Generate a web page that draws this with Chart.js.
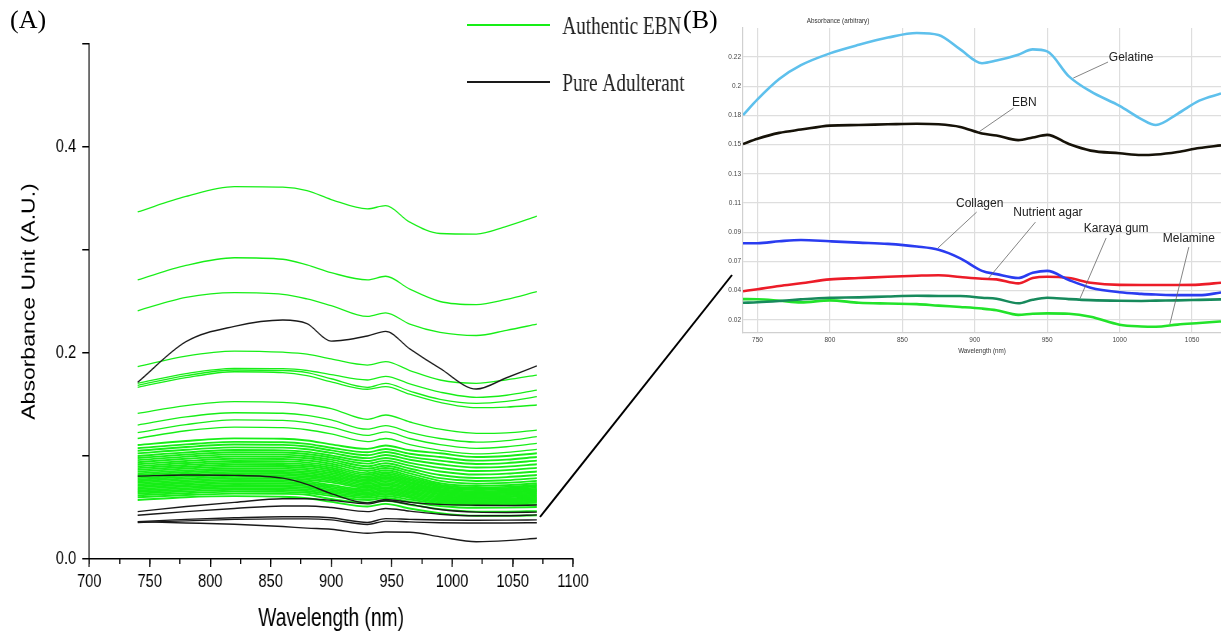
<!DOCTYPE html>
<html>
<head>
<meta charset="utf-8">
<script src="https://cdn.jsdelivr.net/npm/chart.js"></script>
<style>
  html, body { margin: 0; padding: 0; background: #fff; }
  body { width: 1221px; height: 634px; position: relative; overflow: hidden; }
  /* panel A was squeezed sideways in the figure, so draw it wide and squash it */
  #wrapA { position: absolute; left: 0; top: 0; width: 910px; height: 634px; transform: scaleX(0.76923); transform-origin: 0 0; }
  #wrapB { position: absolute; left: 700px; top: 0; width: 521px; height: 380px; }
  #link { position: absolute; left: 0; top: 0; }
  .panel { position: absolute; top: 5px; font: 26px "Liberation Serif", "Times New Roman", serif; color: #000; }
</style>
</head>
<body>
<div id="wrapA"><canvas id="chartA" width="910" height="634"></canvas></div>
<div id="wrapB"><canvas id="chartB" width="521" height="380"></canvas></div>
<svg id="link" width="1221" height="634"><line x1="540" y1="517" x2="732" y2="275" stroke="#000" stroke-width="2"/></svg>
<div class="panel" style="left:10px">(A)</div>
<div class="panel" style="left:683px">(B)</div>
<script>
// ---------- panel A data ----------
const wlA = [740, 780, 820, 860, 880, 900, 930, 945, 965, 990, 1020, 1045, 1070];

const authenticEBN = [
  [0.337, 0.352, 0.3615, 0.361, 0.3576, 0.349, 0.340, 0.343, 0.327, 0.316, 0.3155, 0.323, 0.333],
  [0.271, 0.285, 0.2925, 0.291, 0.2855, 0.278, 0.271, 0.2745, 0.262, 0.250, 0.247, 0.252, 0.2595],
  [0.241, 0.254, 0.2586, 0.257, 0.2525, 0.246, 0.2355, 0.239, 0.228, 0.220, 0.217, 0.222, 0.228],
  [0.1867, 0.197, 0.2019, 0.2008, 0.199, 0.1942, 0.1883, 0.1916, 0.183, 0.1738, 0.1706, 0.174, 0.1786],
  [0.1706, 0.180, 0.1851, 0.1848, 0.183, 0.179, 0.1738, 0.1773, 0.170, 0.162, 0.157, 0.159, 0.164],
  [0.1686, 0.178, 0.1835, 0.183, 0.181, 0.175, 0.1667, 0.1706, 0.163, 0.155, 0.1511, 0.153, 0.1576],
  [0.1667, 0.176, 0.1818, 0.181, 0.178, 0.172, 0.1648, 0.1673, 0.160, 0.152, 0.147, 0.1475, 0.1495],
  [0.1414, 0.149, 0.1527, 0.152, 0.150, 0.146, 0.1356, 0.1398, 0.133, 0.126, 0.122, 0.1225, 0.1252],
  [0.130, 0.138, 0.142, 0.1415, 0.1395, 0.135, 0.126, 0.1295, 0.123, 0.117, 0.1135, 0.115, 0.1188],
  [0.1226, 0.1305, 0.135, 0.1345, 0.1325, 0.128, 0.120, 0.1235, 0.117, 0.111, 0.1075, 0.109, 0.1123],
  [0.117, 0.1245, 0.128, 0.1275, 0.1255, 0.1215, 0.114, 0.117, 0.111, 0.1055, 0.102, 0.1035, 0.1065],
  [0.1107, 0.1146, 0.1171, 0.1168, 0.1151, 0.1113, 0.1069, 0.1102, 0.1056, 0.1026, 0.0990, 0.1000, 0.1026],
  [0.1075, 0.1113, 0.1137, 0.1134, 0.1118, 0.1080, 0.1036, 0.1068, 0.1022, 0.0990, 0.0955, 0.0965, 0.0990],
  [0.1050, 0.1087, 0.1111, 0.1108, 0.1092, 0.1055, 0.1007, 0.1039, 0.0992, 0.0955, 0.0922, 0.0931, 0.0955],
  [0.1025, 0.1061, 0.1084, 0.1081, 0.1066, 0.1030, 0.0979, 0.1010, 0.0963, 0.0920, 0.0888, 0.0897, 0.0920],
  [0.1000, 0.1035, 0.1058, 0.1055, 0.1040, 0.1005, 0.0951, 0.0981, 0.0933, 0.0885, 0.0854, 0.0863, 0.0885],
  [0.0980, 0.1014, 0.1037, 0.1034, 0.1019, 0.0985, 0.0926, 0.0955, 0.0906, 0.0850, 0.0820, 0.0829, 0.0850],
  [0.0960, 0.0994, 0.1016, 0.1013, 0.0998, 0.0965, 0.0901, 0.0930, 0.0879, 0.0815, 0.0786, 0.0795, 0.0815],
  [0.0940, 0.0973, 0.0995, 0.0992, 0.0978, 0.0945, 0.0877, 0.0905, 0.0854, 0.0785, 0.0758, 0.0765, 0.0785],
  [0.0920, 0.0952, 0.0973, 0.0971, 0.0957, 0.0925, 0.0855, 0.0883, 0.0831, 0.0758, 0.0731, 0.0739, 0.0758],
  [0.0900, 0.0932, 0.0952, 0.0950, 0.0936, 0.0905, 0.0834, 0.0861, 0.0809, 0.0735, 0.0709, 0.0717, 0.0735],
  [0.0882, 0.0913, 0.0933, 0.0931, 0.0917, 0.0886, 0.0817, 0.0843, 0.0792, 0.0718, 0.0693, 0.0700, 0.0718],
  [0.0865, 0.0895, 0.0915, 0.0913, 0.0900, 0.0869, 0.0801, 0.0827, 0.0777, 0.0705, 0.0680, 0.0687, 0.0705],
  [0.0848, 0.0878, 0.0897, 0.0895, 0.0882, 0.0852, 0.0786, 0.0811, 0.0763, 0.0693, 0.0669, 0.0676, 0.0693],
  [0.0831, 0.0860, 0.0879, 0.0877, 0.0864, 0.0835, 0.0771, 0.0796, 0.0748, 0.0681, 0.0657, 0.0664, 0.0681],
  [0.0815, 0.0844, 0.0862, 0.0860, 0.0848, 0.0819, 0.0757, 0.0781, 0.0735, 0.0670, 0.0647, 0.0653, 0.0670],
  [0.0800, 0.0828, 0.0846, 0.0844, 0.0832, 0.0804, 0.0744, 0.0768, 0.0722, 0.0659, 0.0636, 0.0643, 0.0659],
  [0.0785, 0.0812, 0.0831, 0.0828, 0.0816, 0.0789, 0.0730, 0.0754, 0.0709, 0.0648, 0.0625, 0.0632, 0.0648],
  [0.0770, 0.0797, 0.0815, 0.0812, 0.0801, 0.0774, 0.0716, 0.0739, 0.0696, 0.0637, 0.0615, 0.0621, 0.0637],
  [0.0755, 0.0781, 0.0799, 0.0797, 0.0785, 0.0759, 0.0703, 0.0726, 0.0684, 0.0626, 0.0604, 0.0610, 0.0626],
  [0.0740, 0.0766, 0.0783, 0.0781, 0.0770, 0.0744, 0.0690, 0.0712, 0.0671, 0.0615, 0.0593, 0.0600, 0.0615],
  [0.0725, 0.0750, 0.0767, 0.0765, 0.0754, 0.0718, 0.0676, 0.0698, 0.0658, 0.0604, 0.0583, 0.0589, 0.0604],
  [0.0710, 0.0735, 0.0751, 0.0749, 0.0738, 0.0703, 0.0663, 0.0684, 0.0645, 0.0593, 0.0572, 0.0578, 0.0593],
  [0.0695, 0.0719, 0.0735, 0.0733, 0.0723, 0.0688, 0.0649, 0.0670, 0.0632, 0.0582, 0.0562, 0.0567, 0.0582],
  [0.0680, 0.0704, 0.0719, 0.0717, 0.0707, 0.0673, 0.0636, 0.0656, 0.0619, 0.0571, 0.0551, 0.0557, 0.0571],
  [0.0665, 0.0688, 0.0704, 0.0702, 0.0692, 0.0658, 0.0622, 0.0642, 0.0606, 0.0560, 0.0540, 0.0546, 0.0560],
  [0.0650, 0.0673, 0.0688, 0.0686, 0.0676, 0.0644, 0.0609, 0.0628, 0.0594, 0.0549, 0.0530, 0.0535, 0.0549],
  [0.0635, 0.0657, 0.0672, 0.0670, 0.0660, 0.0629, 0.0593, 0.0612, 0.0577, 0.0535, 0.0522, 0.0524, 0.0530],
  [0.0618, 0.0640, 0.0654, 0.0652, 0.0643, 0.0612, 0.0573, 0.0592, 0.0556, 0.0515, 0.0497, 0.0499, 0.0505],
  [0.0600, 0.0621, 0.0635, 0.0633, 0.0624, 0.0582, 0.0547, 0.0565, 0.0527, 0.0484, 0.0460, 0.0460, 0.0465],
  [0.0573, 0.0600, 0.0610, 0.0605, 0.0590, 0.0555, 0.0510, 0.0535, 0.0490, 0.0445, 0.0420, 0.0420, 0.0425]
];

// gelatine, collagen, nutrient agar, ..., melamine
const pureAdulterant = [
  [0.1715, 0.211, 0.2258, 0.232, 0.2285, 0.2115, 0.2165, 0.221, 0.204, 0.185, 0.165, 0.176, 0.1875],
  [0.0805, 0.0815, 0.0812, 0.0785, 0.0725, 0.0635, 0.0545, 0.0578, 0.0550, 0.0530, 0.0522, 0.0520, 0.0524],
  [0.046, 0.051, 0.055, 0.0585, 0.0585, 0.057, 0.0535, 0.0565, 0.053, 0.048, 0.0455, 0.0452, 0.0455],
  [0.0425, 0.046, 0.049, 0.0515, 0.0515, 0.050, 0.046, 0.049, 0.0465, 0.0435, 0.042, 0.042, 0.0428],
  [0.0362, 0.0385, 0.040, 0.041, 0.041, 0.040, 0.0355, 0.0392, 0.0385, 0.0378, 0.0376, 0.0377, 0.0380],
  [0.0355, 0.0370, 0.0385, 0.039, 0.039, 0.038, 0.0335, 0.0368, 0.036, 0.0352, 0.035, 0.035, 0.0352],
  [0.0362, 0.035, 0.0337, 0.0315, 0.030, 0.0289, 0.025, 0.0262, 0.026, 0.0215, 0.0168, 0.0178, 0.0201]
];

const legendA = ['Authentic EBN', 'Pure Adulterant'];

// ---------- panel B data ----------
const wlB = [740, 750, 765, 780, 800, 820, 840, 860, 875, 890, 905, 915, 930, 940, 950, 965, 980, 1000, 1015, 1025, 1040, 1055, 1070];
const gelatine     = [0.178, 0.190, 0.2055, 0.216, 0.225, 0.2315, 0.237, 0.2405, 0.239, 0.228, 0.2175, 0.2195, 0.224, 0.228, 0.2265, 0.2075, 0.196, 0.185, 0.175, 0.1705, 0.179, 0.189, 0.1945];
const ebn          = [0.156, 0.160, 0.1645, 0.167, 0.170, 0.1705, 0.171, 0.1714, 0.171, 0.169, 0.164, 0.1625, 0.159, 0.161, 0.163, 0.156, 0.151, 0.149, 0.1476, 0.148, 0.150, 0.153, 0.155];
const collagen     = [0.0805, 0.0805, 0.082, 0.083, 0.082, 0.081, 0.080, 0.078, 0.0755, 0.069, 0.0595, 0.057, 0.054, 0.058, 0.0595, 0.0525, 0.0467, 0.0432, 0.042, 0.0415, 0.041, 0.041, 0.043];
const nutrientAgar = [0.044, 0.0455, 0.048, 0.050, 0.053, 0.054, 0.055, 0.0558, 0.0562, 0.0548, 0.0535, 0.053, 0.050, 0.054, 0.055, 0.054, 0.0505, 0.0488, 0.0487, 0.0487, 0.0487, 0.049, 0.0505];
const karayaGum    = [0.0352, 0.0356, 0.0366, 0.0378, 0.039, 0.0393, 0.040, 0.0405, 0.0404, 0.0403, 0.039, 0.0383, 0.0348, 0.0375, 0.039, 0.038, 0.0372, 0.0367, 0.0366, 0.0368, 0.037, 0.0374, 0.0378];
const melamine     = [0.038, 0.0379, 0.0368, 0.0355, 0.037, 0.0352, 0.0346, 0.0342, 0.033, 0.032, 0.0308, 0.0295, 0.026, 0.0268, 0.0271, 0.0268, 0.0245, 0.0185, 0.0172, 0.017, 0.0186, 0.0198, 0.021];

const xTicksB = [750, 800, 850, 900, 950, 1000, 1050];
const yTicksB = [0.0222, 0.0444, 0.0667, 0.0889, 0.1111, 0.1333, 0.1556, 0.1778, 0.2, 0.2222];
const yTickLabelsB = ['0.02', '0.04', '0.07', '0.09', '0.11', '0.13', '0.15', '0.18', '0.2', '0.22'];

// callouts: label, text centre, leader start, leader end (wavelength, absorbance)
const calloutNames = ['Gelatine', 'EBN', 'Collagen', 'Nutrient agar', 'Karaya gum', 'Melamine'];
const calloutText = [[1008, 0.2214], [934.3, 0.1872], [903.4, 0.1103], [950.5, 0.1035], [997.6, 0.0913], [1047.8, 0.0837]];
const calloutFrom = [[992, 0.2184], [926.8, 0.1834], [901.3, 0.1042], [941.9, 0.0966], [990.7, 0.0845], [1047.8, 0.0776]];
const calloutTo   = [[968, 0.2062], [902.7, 0.1651], [874.5, 0.0768], [909.6, 0.054], [972.8, 0.0388], [1034.7, 0.019]];

Chart.defaults.font.family = '"Liberation Sans", Arial, sans-serif';
Chart.defaults.animation = false;

const GREEN = '#16ee16';
const BLACK = '#1a1a1a';

function toPoints(xs, ys) {
  return ys.map((v, i) => ({x: xs[i], y: v}));
}

// ---------- chart A ----------
const dsA = [];
pureAdulterant.forEach(row => {
  dsA.push({data: toPoints(wlA, row), borderColor: BLACK, borderWidth: 1.4});
});
authenticEBN.forEach((row, i) => {
  // the crowded band at the bottom reads as almost solid green
  dsA.push({data: toPoints(wlA, row), borderColor: GREEN, borderWidth: i < 11 ? 1.3 : 1.9});
});

const legendPluginA = {
  id: 'legendPluginA',
  afterDraw(chart) {
    const ctx = chart.ctx;
    const colors = [GREEN, BLACK];
    const rows = [25, 82];
    ctx.save();
    ctx.font = '25px "Liberation Serif", "Times New Roman", serif';
    ctx.textBaseline = 'middle';
    ctx.fillStyle = '#222';
    legendA.forEach((name, i) => {
      ctx.strokeStyle = colors[i];
      ctx.lineWidth = 2;
      ctx.beginPath();
      ctx.moveTo(607, rows[i]);
      ctx.lineTo(715, rows[i]);
      ctx.stroke();
      ctx.fillText(name, 731, rows[i] + 2);
    });
    ctx.restore();
  }
};

new Chart(document.getElementById('chartA'), {
  type: 'line',
  data: {datasets: dsA},
  plugins: [legendPluginA],
  options: {
    responsive: false,
    events: [],
    layout: {padding: {top: 44, right: 165, bottom: 0, left: 0}},
    elements: {point: {radius: 0}, line: {cubicInterpolationMode: 'monotone'}},
    plugins: {legend: {display: false}, tooltip: {enabled: false}},
    scales: {
      x: {
        type: 'linear', min: 700, max: 1100, weight: 1,
        ticks: {stepSize: 50, color: '#000', font: {size: 19}, padding: 3, maxRotation: 0, autoSkip: false,
                callback: v => String(v)},
        grid: {drawOnChartArea: false, tickLength: 8, color: '#000', lineWidth: 1.5},
        border: {color: '#000', width: 1.5},
        title: {display: true, text: 'Wavelength (nm)', color: '#000', font: {size: 25}, padding: 0},
        afterFit(s) { s.height = 75; s.paddingLeft = 0; s.paddingRight = 0; }
      },
      xMinor: {
        type: 'linear', position: 'bottom', min: 700, max: 1100, weight: 0,
        ticks: {display: false, stepSize: 25},
        grid: {drawOnChartArea: false, tickLength: 5, color: '#000', lineWidth: 1.5},
        border: {display: false},
        afterFit(s) { s.height = 0; s.paddingLeft = 0; s.paddingRight = 0; }
      },
      y: {
        min: 0, max: 0.5,
        ticks: {
          stepSize: 0.1, color: '#000', font: {size: 19}, padding: 8,
          callback: v => (Math.round(v * 10) % 2 === 0 ? v.toFixed(1) : '')
        },
        grid: {drawOnChartArea: false, tickLength: 9, color: '#000', lineWidth: 1.5},
        border: {color: '#000', width: 1.5},
        title: {display: true, text: 'Absorbance Unit (A.U.)', color: '#000', font: {size: 23}, padding: {top: 25, bottom: 0}},
        afterFit(s) { s.width = 116; s.paddingTop = 0; s.paddingBottom = 0; }
      }
    }
  }
});

// ---------- chart B ----------
const seriesB = [
  {label: 'Gelatine', data: gelatine, color: '#5ec0ec'},
  {label: 'EBN', data: ebn, color: '#161208'},
  {label: 'Collagen', data: collagen, color: '#2a3cf0'},
  {label: 'Nutrient agar', data: nutrientAgar, color: '#ec1c28'},
  {label: 'Karaya gum', data: karayaGum, color: '#178a5c'},
  {label: 'Melamine', data: melamine, color: '#22e32a'}
];

const calloutPluginB = {
  id: 'calloutPluginB',
  afterDatasetsDraw(chart) {
    const {ctx, chartArea} = chart;
    const x = chart.scales.x, y = chart.scales.y;
    ctx.save();
    ctx.strokeStyle = '#666';
    ctx.lineWidth = 0.8;
    ctx.fillStyle = '#222';
    ctx.font = '12px "Liberation Sans", Arial, sans-serif';
    ctx.textAlign = 'center';
    ctx.textBaseline = 'middle';
    calloutNames.forEach((name, i) => {
      ctx.beginPath();
      ctx.moveTo(x.getPixelForValue(calloutFrom[i][0]), y.getPixelForValue(calloutFrom[i][1]));
      ctx.lineTo(x.getPixelForValue(calloutTo[i][0]), y.getPixelForValue(calloutTo[i][1]));
      ctx.stroke();
      ctx.fillText(name, x.getPixelForValue(calloutText[i][0]), y.getPixelForValue(calloutText[i][1]));
    });
    ctx.font = '6.3px "Liberation Sans", Arial, sans-serif';
    ctx.fillStyle = '#333';
    ctx.fillText('Absorbance (arbitrary)', chartArea.left + 95, chartArea.top - 7);
    ctx.restore();
  }
};

new Chart(document.getElementById('chartB'), {
  type: 'line',
  data: {
    datasets: seriesB.map(s => ({
      label: s.label, data: toPoints(wlB, s.data),
      borderColor: s.color, borderWidth: 2.6
    }))
  },
  plugins: [calloutPluginB],
  options: {
    responsive: false,
    events: [],
    layout: {padding: {top: 28, right: 0, bottom: 0, left: 0}},
    elements: {point: {radius: 0}, line: {cubicInterpolationMode: 'monotone'}},
    plugins: {legend: {display: false}, tooltip: {enabled: false}},
    scales: {
      x: {
        type: 'linear', min: 740, max: 1070,
        afterBuildTicks(s) { s.ticks = xTicksB.map(v => ({value: v})); },
        ticks: {color: '#444', font: {size: 6.5}, padding: 3, maxRotation: 0, autoSkip: false,
                callback: v => String(v)},
        grid: {color: '#dedede', lineWidth: 1.2, drawTicks: false},
        border: {color: '#d0d0d0', width: 1.2},
        title: {display: true, text: 'Wavelength (nm)', color: '#333', font: {size: 6.3}, padding: {top: 0, bottom: 25}},
        afterFit(s) { s.height = 47; s.paddingLeft = 0; s.paddingRight = 0; }
      },
      y: {
        min: 0.0122, max: 0.2443,
        afterBuildTicks(s) { s.ticks = yTicksB.map(v => ({value: v})); },
        ticks: {color: '#444', font: {size: 6.5}, padding: 2, callback: (v, i) => yTickLabelsB[i]},
        grid: {color: '#dedede', lineWidth: 1.2, drawTicks: false},
        border: {color: '#d0d0d0', width: 1.2},
        afterFit(s) { s.width = 43; s.paddingTop = 0; s.paddingBottom = 0; }
      }
    }
  }
});
</script>
</body>
</html>
